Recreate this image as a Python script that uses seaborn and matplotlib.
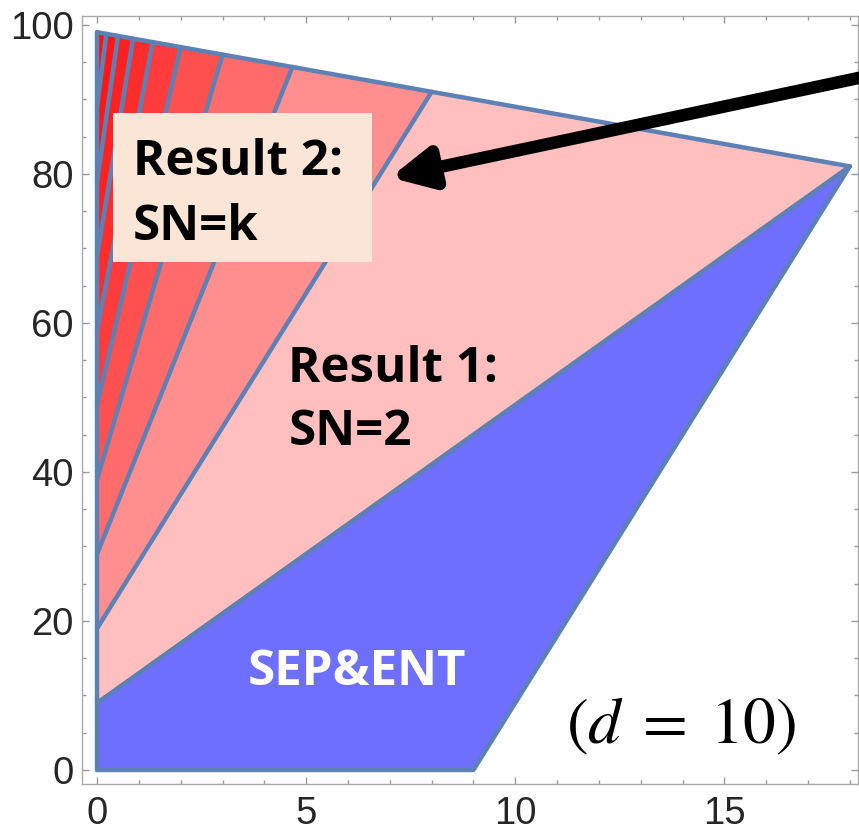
import matplotlib
matplotlib.use("Agg")
import matplotlib.pyplot as plt
from matplotlib.patches import Rectangle
from matplotlib.ticker import MultipleLocator
import seaborn as sns
import pandas as pd

# ---- data ----
sep_x = [0, 9, 18, 0]            # SEP&ENT region vertices
sep_y = [0, 0, 81, 9]
top_left = (0, 99)               # top edge of the full region
boundary_y0 = [9, 19, 29, 39, 49, 59, 69, 79, 89]               # start on left edge
boundary_xt = [18, 8, 4.67, 3, 2, 1.33, 0.86, 0.5, 0.22]         # end on top edge (x)
boundary_yt = [81, 91, 94.33, 96, 97, 97.67, 98.14, 98.5, 98.78]  # end on top edge (y)
x_major = [0, 5, 10, 15]
y_major = [0, 20, 40, 60, 80, 100]

sns.set_style("ticks")
plt.rcParams["font.family"] = ["Liberation Sans", "DejaVu Sans"]
plt.rcParams["mathtext.fontset"] = "stix"

fig = plt.figure(figsize=(8.59, 8.32), dpi=100)
ax = fig.add_axes([0.0955, 0.0577, 0.9035, 0.9233])

edge = "#5E81B5"
red = "#FF0000"

# stacked translucent red wedges (SN = 2, 3, ... k)
for y0, xt, yt in zip(boundary_y0, boundary_xt, boundary_yt):
    ax.fill([0, xt, top_left[0]], [y0, yt, top_left[1]], color=red, alpha=0.25, lw=0, zorder=1)

# SEP&ENT region
ax.fill(sep_x, sep_y, color="#6E6EFF", lw=0, zorder=2)

# outlines
lines = []
for i, (y0, xt, yt) in enumerate(zip(boundary_y0, boundary_xt, boundary_yt)):
    lines.append(pd.DataFrame({"x": [0, xt], "y": [y0, yt], "seg": f"b{i}"}))
lines.append(pd.DataFrame({"x": [top_left[0], boundary_xt[0]], "y": [top_left[1], boundary_yt[0]], "seg": "top"}))
lines.append(pd.DataFrame({"x": [0, 0], "y": [0, top_left[1]], "seg": "left"}))
lines.append(pd.DataFrame({"x": sep_x[:3], "y": sep_y[:3], "seg": "bottom"}))
df = pd.concat(lines, ignore_index=True)
sns.lineplot(data=df, x="x", y="y", units="seg", estimator=None, sort=False,
             color=edge, linewidth=3.2, ax=ax, zorder=3, solid_joinstyle="round", solid_capstyle="round")
ax.set_xlabel("")
ax.set_ylabel("")

ax.set_xlim(-0.36, 18.2)
ax.set_ylim(-1.88, 101.2)
ax.xaxis.set_major_locator(MultipleLocator(5))
ax.xaxis.set_minor_locator(MultipleLocator(1))
ax.yaxis.set_major_locator(MultipleLocator(20))
ax.yaxis.set_minor_locator(MultipleLocator(5))
ax.set_xticks(x_major)
ax.set_yticks(y_major)
ax.tick_params(which="both", direction="in", top=True, right=True, color="#999999", width=1)
ax.tick_params(which="major", length=5, labelsize=27.5, pad=6)
ax.tick_params(which="minor", length=3)
ax.tick_params(axis="x", pad=9)
for s in ax.spines.values():
    s.set_color("#AAAAAA")
    s.set_linewidth(1)

# annotations
ax.add_patch(Rectangle((0.38, 68.2), 6.2, 20.0, facecolor="#FBE5D6", edgecolor="none", zorder=5))
tkw = dict(fontsize=35.5, fontweight="bold", family=["Open Sans", "DejaVu Sans"], va="baseline", ha="left", zorder=6)
ax.text(0.86, 79.9, "Result 2:", color="black", **tkw)
ax.text(0.86, 71.1, "SN=k", color="black", **tkw)
ax.text(4.57, 52.1, "Result 1:", color="black", **tkw)
ax.text(4.57, 43.6, "SN=2", color="black", **tkw)
ax.text(3.61, 11.4, "SEP&ENT", color="white", **tkw)
ax.text(11.22, 3.6, r"$(d\;=\;10)$", fontsize=47, color="black", va="baseline", ha="left", zorder=6)

ax.annotate("", xy=(7.01, 79.5), xycoords="data",
            xytext=(1.03, 0.913), textcoords="figure fraction",
            arrowprops=dict(arrowstyle="-|>,head_length=1.2,head_width=0.6", mutation_scale=20,
                            lw=9, color="black", shrinkA=0, shrinkB=0),
            annotation_clip=False, zorder=7)

fig.savefig("out.png", dpi=100)
